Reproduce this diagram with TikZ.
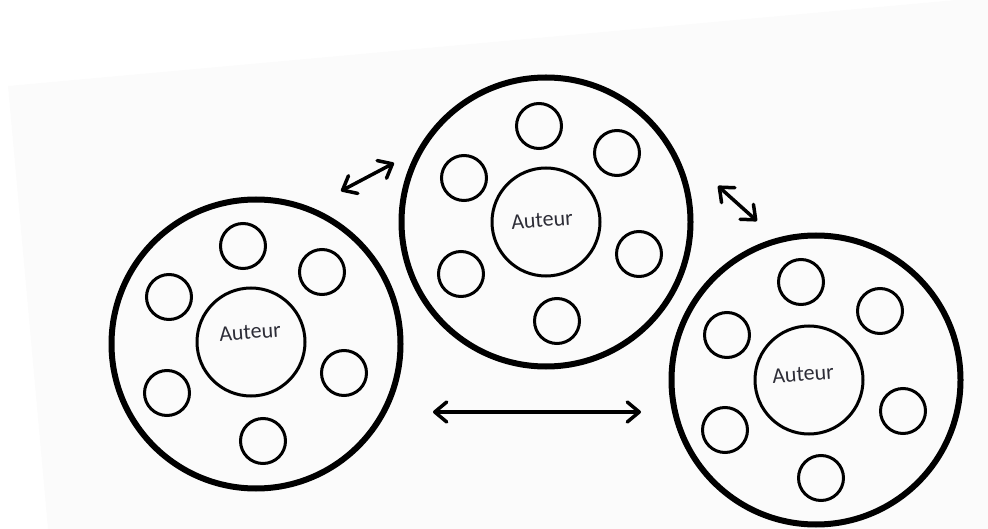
\documentclass[tikz,border=0pt]{standalone}
\usepackage{fontspec}
\setmainfont{Carlito}
\usetikzlibrary{arrows.meta}
\definecolor{pagebg}{RGB}{251,251,251}
\definecolor{labelc}{RGB}{45,45,55}
\tikzset{
  bigring/.style={circle, draw=black, line width=6pt, minimum size=289pt, inner sep=0pt},
  authorring/.style={circle, draw=black, line width=3pt, minimum size=108pt, inner sep=0pt},
  authortext/.style={inner sep=0pt, text=labelc, font=\fontsize{22}{26}\selectfont, rotate=4},
  seat/.style={circle, draw=black, line width=3pt, minimum size=45pt, inner sep=0pt},
  link/.style={line width=3.5pt, line cap=round,
    {Straight Barb[length=12pt,width=20pt,line cap=round,line join=round]}-{Straight Barb[length=12pt,width=20pt,line cap=round,line join=round]}}
}
\begin{document}
\begin{tikzpicture}[x=1pt,y=-1pt]
\path[use as bounding box] (0,0) rectangle (988,529);
\begin{scope}
\clip (0,0) rectangle (988,529);
\fill[pagebg] (8,86) -- (1000,-4) -- (1000,540) -- (49,540) -- cycle;
\end{scope}
% left group
\node[bigring] (L) at (256,344) {};
\node[authorring] (La) at (251,342) {};
\node[authortext] (Lt) at (250,332) {Auteur};
\node[seat] (L1) at (243,246) {};
\node[seat] (L2) at (322,272) {};
\node[seat] (L3) at (169,297) {};
\node[seat] (L4) at (344,373) {};
\node[seat] (L5) at (167,393) {};
\node[seat] (L6) at (263,441) {};
% middle group
\node[bigring] (M) at (546,222) {};
\node[authorring] (Ma) at (546,222) {};
\node[authortext] (Mt) at (542,220) {Auteur};
\node[seat] (M1) at (539,126) {};
\node[seat] (M2) at (617,153) {};
\node[seat] (M3) at (464,178) {};
\node[seat] (M4) at (639,254) {};
\node[seat] (M5) at (461,274) {};
\node[seat] (M6) at (557,321) {};
% right group
\node[bigring] (R) at (816,380) {};
\node[authorring] (Ra) at (809,380) {};
\node[authortext] (Rt) at (803,374) {Auteur};
\node[seat] (R1) at (801,282) {};
\node[seat] (R2) at (880,311) {};
\node[seat] (R3) at (727,335) {};
\node[seat] (R4) at (903,411) {};
\node[seat] (R5) at (725,430) {};
\node[seat] (R6) at (821,478) {};
% arrows
\coordinate (a1) at (341,191);
\coordinate (a2) at (394,163);
\coordinate (b1) at (718,186);
\coordinate (b2) at (757,221);
\coordinate (c1) at (433,412);
\coordinate (c2) at (641,412);
\draw[link] (a1) -- (a2);
\draw[link] (b1) -- (b2);
\draw[link] (c1) -- (c2);
\end{tikzpicture}
\end{document}
